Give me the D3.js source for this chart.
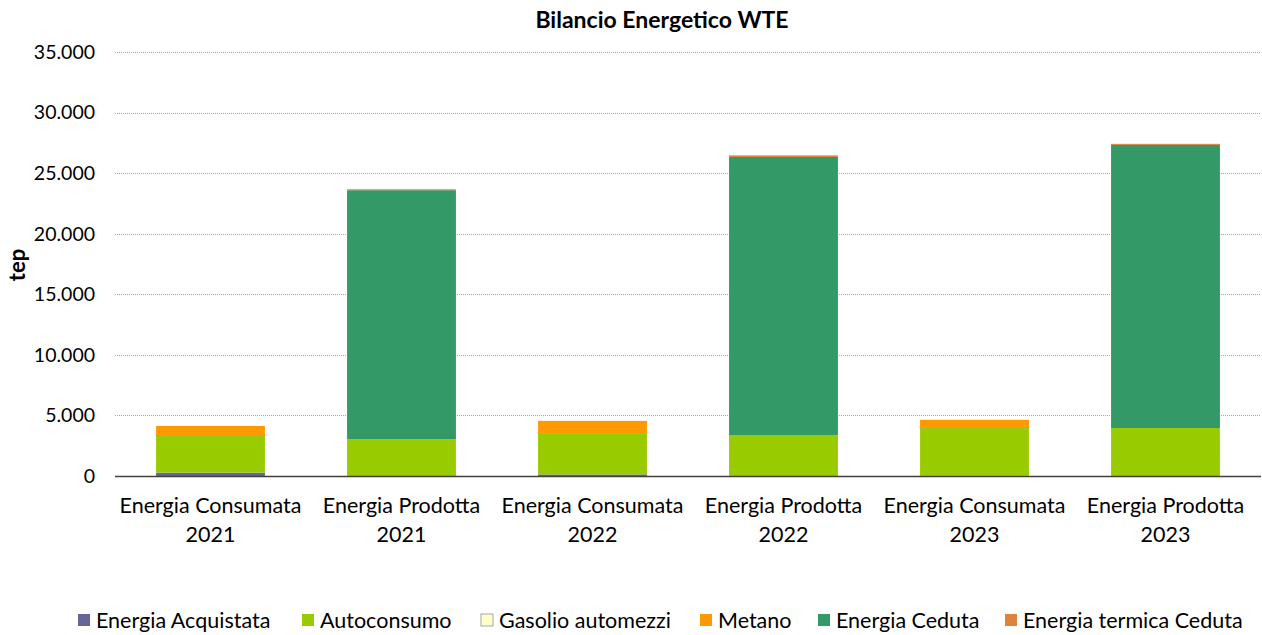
<!DOCTYPE html>
<html>
<head>
<meta charset="utf-8">
<script src="https://cdn.jsdelivr.net/npm/d3@7"></script>
<style>
  body { margin: 0; background: #fff; }
  text { font-family: Lato, "Open Sans", sans-serif; fill: #000; }
</style>
</head>
<body>
<div id="chart"></div>
<script>
const categories = [
  ["Energia Consumata", "2021"],
  ["Energia Prodotta", "2021"],
  ["Energia Consumata", "2022"],
  ["Energia Prodotta", "2022"],
  ["Energia Consumata", "2023"],
  ["Energia Prodotta", "2023"]
];
const seriesNames = [
  "Energia Acquistata",
  "Autoconsumo",
  "Gasolio automezzi",
  "Metano",
  "Energia Ceduta",
  "Energia termica Ceduta"
];
const acquistata = [280, 0, 130, 0, 40, 0];
const autoconsumo = [3050, 3030, 3390, 3385, 3950, 3960];
const gasolio = [20, 0, 30, 0, 30, 0];
const metano = [780, 0, 1000, 0, 620, 0];
const ceduta = [0, 20560, 0, 22950, 0, 23370];
const termica = [0, 80, 0, 130, 0, 90];
const yTicks = [0, 5000, 10000, 15000, 20000, 25000, 30000, 35000];

const colors = ["#666699", "#99CC00", "#FFFFCC", "#FF9900", "#339966", "#E0823D"];
const seriesValues = [acquistata, autoconsumo, gasolio, metano, ceduta, termica];

const W = 1262, H = 635;
const margin = { left: 115, right: 1, top: 52, bottom: 159 };

const svg = d3.select("#chart").append("svg")
  .attr("width", W).attr("height", H);

const rows = categories.map((c, i) => {
  const r = { key: i };
  seriesNames.forEach((s, j) => (r[s] = seriesValues[j][i]));
  return r;
});
const stacked = d3.stack().keys(seriesNames)(rows);

const x = d3.scaleBand()
  .domain(d3.range(categories.length))
  .range([margin.left, W - margin.right])
  .paddingInner(0.43)
  .paddingOuter(0.215);

const y = d3.scaleLinear()
  .domain([0, 35000])
  .range([H - margin.bottom, margin.top]);

// grid
svg.append("g")
  .selectAll("line")
  .data(yTicks.slice(1))
  .join("line")
  .attr("x1", margin.left).attr("x2", W - margin.right)
  .attr("y1", d => Math.round(y(d)) + 0.5).attr("y2", d => Math.round(y(d)) + 0.5)
  .attr("stroke", "#a6a6a6")
  .attr("stroke-dasharray", "1,1");

// y labels
const fmt = d => d3.format(",")(d).replace(/,/g, ".");
svg.append("g")
  .selectAll("text")
  .data(yTicks)
  .join("text")
  .attr("x", 95)
  .attr("y", d => y(d))
  .attr("dy", "0.35em")
  .attr("text-anchor", "end")
  .style("font-size", "19.5px")
  .text(fmt);

// bars
svg.append("g")
  .selectAll("g")
  .data(stacked)
  .join("g")
  .attr("fill", (d, i) => colors[i])
  .attr("stroke", (d, i) => (i === 2 ? "#a6a6a6" : "none"))
  .selectAll("rect")
  .data(d => d)
  .join("rect")
  .attr("x", (d, i) => x(i))
  .attr("width", x.bandwidth())
  .attr("y", d => y(d[1]))
  .attr("height", d => Math.max(0, y(d[0]) - y(d[1])));

// x axis line
svg.append("line")
  .attr("x1", margin.left).attr("x2", W - margin.right)
  .attr("y1", y(0) + 0.5).attr("y2", y(0) + 0.5)
  .attr("stroke", "#404040")
  .attr("stroke-width", 1.5);

// x labels
const xl = svg.append("g")
  .selectAll("text")
  .data(categories)
  .join("text")
  .attr("x", (d, i) => x(i) + x.bandwidth() / 2)
  .attr("y", 513)
  .attr("text-anchor", "middle")
  .style("font-size", "21.5px");
xl.append("tspan").attr("x", (d, i) => x(i) + x.bandwidth() / 2).text(d => d[0]);
xl.append("tspan").attr("x", (d, i) => x(i) + x.bandwidth() / 2).attr("dy", 29).text(d => d[1]);

// title
svg.append("text")
  .attr("x", 662).attr("y", 28)
  .attr("text-anchor", "middle")
  .style("font-size", "23px")
  .style("font-weight", "bold")
  .text("Bilancio Energetico WTE");

// y title
svg.append("text")
  .attr("transform", "translate(25,265) rotate(-90)")
  .attr("text-anchor", "middle")
  .style("font-size", "22px")
  .style("font-weight", "bold")
  .text("tep");

// legend
const legendX = [78, 302, 481, 700, 818, 1005];
const legend = svg.append("g")
  .selectAll("g")
  .data(seriesNames)
  .join("g")
  .attr("transform", (d, i) => `translate(${legendX[i]},614)`);
legend.append("rect")
  .attr("width", 12).attr("height", 12)
  .attr("fill", (d, i) => colors[i])
  .attr("stroke", (d, i) => (i === 2 ? "#a6a6a6" : "none"));
legend.append("text")
  .attr("x", 18).attr("y", 6)
  .attr("dy", "0.35em")
  .style("font-size", "21.5px")
  .text(d => d);
</script>
</body>
</html>
